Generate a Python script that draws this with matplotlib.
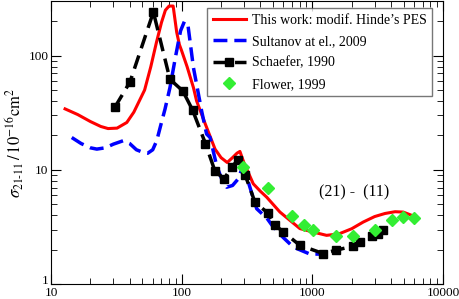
import numpy as np
import matplotlib
matplotlib.use("Agg")
import matplotlib.pyplot as plt
import matplotlib.transforms as mtransforms

plt.rcParams['font.family'] = ['Liberation Serif', 'DejaVu Serif']
plt.rcParams['mathtext.fontset'] = 'stix'

# This work: modif. Hinde's PES
red_x = [12.8, 16, 20, 24, 27.3, 32, 38, 43, 52, 58, 64, 70, 75, 80, 86, 91.6, 96, 100,
         110, 123, 130, 150, 180, 200, 223, 245, 265, 279, 300, 353, 400, 447, 565, 803,
         1005, 1285, 1600, 2000, 2450, 3000, 3600, 4300, 4960, 5755]
red_y = [34.2, 30.5, 26.5, 24.0, 23.0, 23.2, 26.0, 32.0, 50, 80, 130, 195, 250, 272, 272, 160, 125, 110,
         80, 52.5, 40.2, 26, 15.2, 12.8, 11.6, 12.8, 14.0, 14.5, 11.5, 7.55, 6.5, 5.77, 4.27, 3.06,
         2.86, 2.67, 2.75, 3.05, 3.49, 3.9, 4.15, 4.3, 4.27, 4.0]

# Sultanov at el., 2009
blue_x = [14.4, 17, 20, 22.4, 26, 30, 35.7, 40, 45, 50.8, 55, 60, 64.4, 70, 74.5, 81.3, 90,
          98, 105, 112, 123, 142, 155, 165, 185, 205, 221, 245, 271, 290, 310, 340, 375, 450,
          502, 600, 714, 840, 960, 1178]
blue_y = [19.2, 17.0, 15.6, 15.2, 15.6, 16.8, 18.0, 17.0, 15.0, 14.2, 14.0, 15.0, 18.0, 26, 34, 52.5, 100,
          165, 200, 180, 78.5, 32.9, 20.6, 19.2, 10.9, 8.0, 7.05, 7.3, 8.35, 10.3, 9.2, 6.5, 4.57, 3.76,
          3.16, 2.55, 2.11, 1.95, 1.83, 1.83]

# Schaefer, 1990
sch_x = [30.9, 40.2, 60.7, 81.3, 102, 121, 152, 180, 212, 241, 271, 305, 364, 455, 520, 600,
         800, 1210, 1520, 2030, 2310, 2840, 3190, 3490]
sch_y = [35.6, 58.9, 241, 62.1, 49.1, 33.5, 17.0, 9.7, 8.35, 10.7, 12.1, 9.1, 5.2, 4.2, 3.27, 2.86,
         2.19, 1.85, 1.98, 2.14, 2.34, 2.62, 2.77, 2.96]

# Flower, 1999
flo_x = [296, 460, 695, 863, 1016, 1517, 2033, 3013, 4047, 4960, 6025]
flo_y = [10.7, 6.92, 3.94, 3.27, 2.96, 2.62, 2.64, 3.0, 3.61, 3.86, 3.76]

fig = plt.figure(figsize=(4.6, 2.99), dpi=100)
ax = fig.add_axes([0.111, 0.050, 0.852, 0.946])

ax.plot(red_x, red_y, color='#ff0000', lw=2.2, label="This work: modif. Hinde\u2019s PES")
ax.plot(blue_x, blue_y, color='#0000ff', lw=2.5, dashes=(4, 2), label="Sultanov at el., 2009")
ax.plot(sch_x, sch_y, color='black', lw=2.5, dashes=(4, 2.2), marker='s', markersize=6,
        label="Schaefer, 1990")
ax.plot(flo_x, flo_y, ls='none', marker='D', color='#33ee33', markersize=6, label="Flower, 1999")

ax.set_xscale('log')
ax.set_yscale('log')
ax.set_xlim(10, 10000)
ax.set_ylim(1, 300)

ax.set_xticks([10, 100, 1000, 10000])
ax.set_xticklabels(['10', '100', '1000', '10000'])
ax.set_yticks([1, 10, 100])
ax.set_yticklabels(['1', '10', '100'])
ax.tick_params(which='both', direction='in', top=True, right=True, labelsize=9.5, pad=2)
ax.tick_params(which='major', length=7)
ax.tick_params(which='minor', length=4)

# the "1" label sits a little higher in the original, clear of the "10" below it
lab1 = ax.get_yticklabels()[0]
lab1.set_transform(lab1.get_transform() + mtransforms.ScaledTranslation(0, 5 / 100, fig.dpi_scale_trans))

ax.set_ylabel(r'$\sigma_{21\text{-}11}\,/\,10^{-16}\mathrm{cm}^2$', fontsize=12, labelpad=2)

ax.text(0.773, 0.325, '(21) -  (11)', transform=ax.transAxes, ha='center', va='center', fontsize=11.5)

leg = ax.legend(loc='upper right', bbox_to_anchor=(0.972, 0.975), fontsize=10, frameon=True,
                fancybox=False, edgecolor='#555555', handlelength=2.4, borderpad=0.4,
                labelspacing=0.6, borderaxespad=0, handletextpad=0.4)
leg.get_frame().set_linewidth(1.0)

fig.savefig('out.png', dpi=100)
